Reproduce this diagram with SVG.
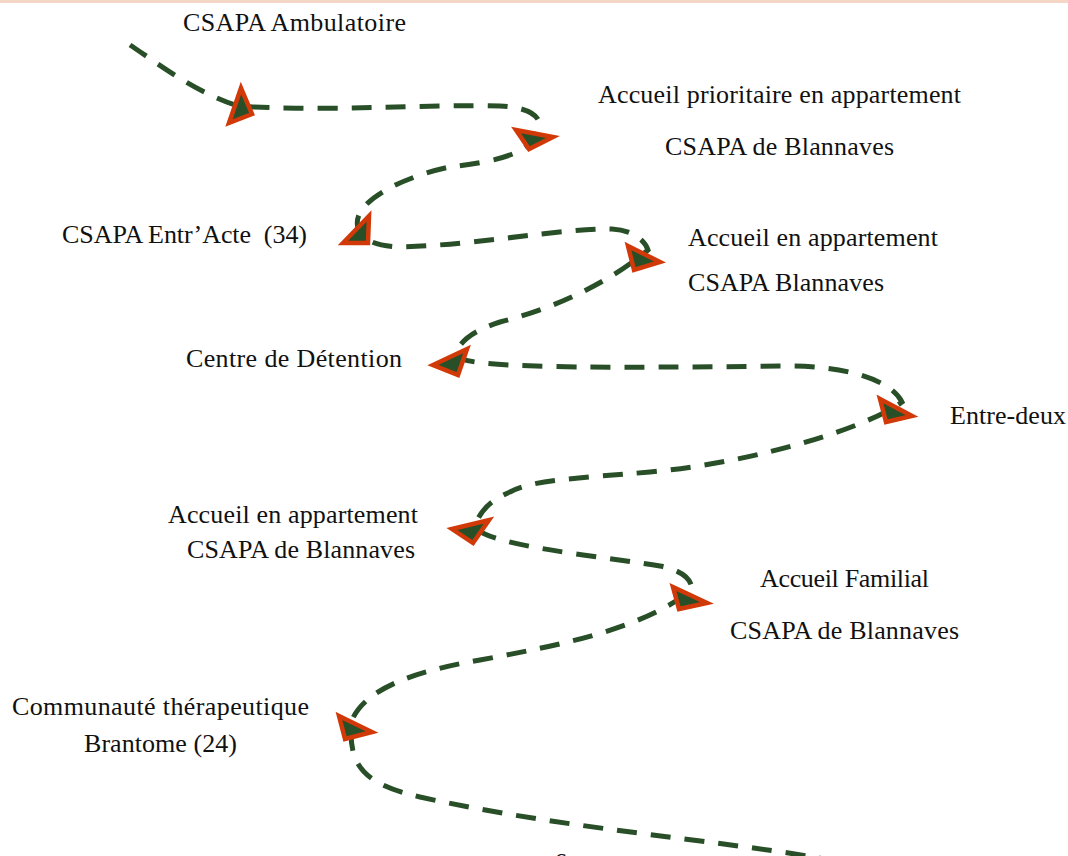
<svg xmlns="http://www.w3.org/2000/svg" width="1068" height="856" viewBox="0 0 1068 856">
<style>
.lbl{font-family:"Liberation Serif","Times New Roman",serif;font-size:26px;fill:#111}
.path{fill:none;stroke:#284f27;stroke-width:5;stroke-dasharray:20 14}
.tri{fill:#284f27;stroke:#d13a08;stroke-width:4.5;stroke-linejoin:miter}
</style>
<rect x="0" y="0" width="1068" height="856" fill="#ffffff"/>
<rect x="0" y="0" width="1068" height="3" fill="#f6d6c6"/>
<g id="connectors">
<path class="path" d="M130,45 C160,65 195,92 238,106 C330,112 430,104 500,106 C530,107 545,118 538,132 C530,150 510,160 450,167 C410,175 350,200 358,228 C362,240 375,246 400,247 C480,245 560,228 612,229 C632,230 645,240 648,250 C600,290 540,312 500,322 C475,330 460,340 455,355 C460,369 600,368 790,366 C840,366 890,378 902,402 C870,426 760,462 650,472 C580,478 530,480 510,492 C490,500 480,512 475,525 C478,545 600,556 660,566 C680,570 692,578 692,590 C640,630 560,645 480,660 C410,672 365,690 352,720 C346,770 370,785 420,797 C560,828 700,838 820,858"/>
<polygon class="tri" points="241,88 229,123 252,114"/>
<polygon class="tri" points="516,130 553,137 529,149"/>
<polygon class="tri" points="343,243 369,216 368,243"/>
<polygon class="tri" points="628,246 660,262 634,270"/>
<polygon class="tri" points="433,365 467,349 458,375"/>
<polygon class="tri" points="880,399 912,416 886,422"/>
<polygon class="tri" points="452,529 489,520 473,543"/>
<polygon class="tri" points="673,587 707,603 679,609"/>
<polygon class="tri" points="339,716 372,732 345,739"/>
</g>
<g id="n1"><text class="lbl" x="183" y="31" textLength="223">CSAPA Ambulatoire</text></g>
<g id="n2"><text class="lbl" x="598" y="103" textLength="363">Accueil prioritaire en appartement</text><text class="lbl" x="665" y="155" textLength="229">CSAPA de Blannaves</text></g>
<g id="n3"><text class="lbl" x="62" y="243" textLength="245" xml:space="preserve">CSAPA Entr’Acte  (34)</text></g>
<g id="n4"><text class="lbl" x="688" y="246" textLength="250">Accueil en appartement</text><text class="lbl" x="688" y="291" textLength="196">CSAPA Blannaves</text></g>
<g id="n5"><text class="lbl" x="186" y="367" textLength="216">Centre de Détention</text></g>
<g id="n6"><text class="lbl" x="950" y="424" textLength="116">Entre-deux</text></g>
<g id="n7"><text class="lbl" x="168" y="523" textLength="250">Accueil en appartement</text><text class="lbl" x="187" y="558" textLength="228">CSAPA de Blannaves</text></g>
<g id="n8"><text class="lbl" x="760" y="587" textLength="169">Accueil Familial</text><text class="lbl" x="730" y="639" textLength="229">CSAPA de Blannaves</text></g>
<g id="n9"><text class="lbl" x="12" y="715" textLength="297">Communauté thérapeutique</text><text class="lbl" x="84" y="752" textLength="153">Brantome (24)</text></g>
<g id="page"><text class="lbl" x="554" y="871">6</text></g>
</svg>
